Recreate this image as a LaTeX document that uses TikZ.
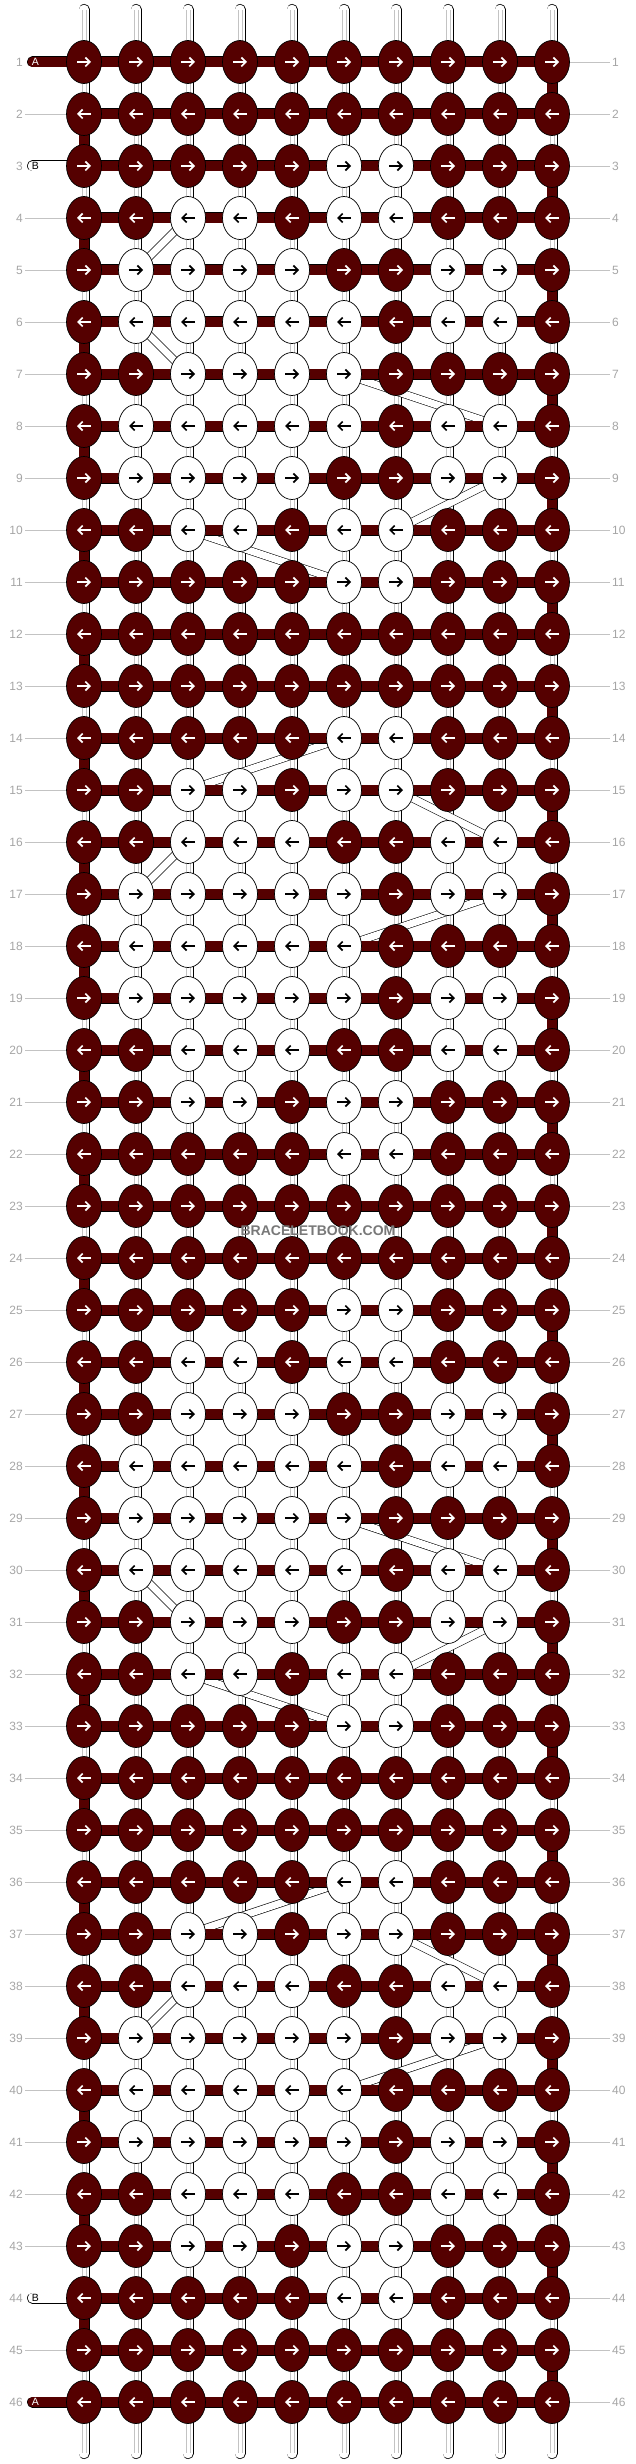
\documentclass[tikz,border=0pt]{standalone}
\usepackage{fontspec}
\setmainfont{Liberation Sans}
\usepackage{tikz}
\usetikzlibrary{arrows.meta, calc, shapes.geometric}
\definecolor{knotdark}{RGB}{85,0,0}
\definecolor{rowgray}{RGB}{165,165,165}
\definecolor{linegray}{RGB}{195,195,195}
\definecolor{markgray}{RGB}{120,120,120}
\pgfdeclarelayer{strings}
\pgfsetlayers{strings,main}

\begin{document}
\begin{tikzpicture}[x=1pt, y=-1pt,
    knot/.style={ellipse, draw=black, line width=0.7pt, minimum width=35pt, minimum height=43pt, inner sep=0pt},
    knot0/.style={knot, fill=knotdark},
    knot1/.style={knot, fill=white},
    thread/.style={draw=black, line width=0.7pt, double=white, double distance=9.6pt, line cap=round},
    threadmid/.style={draw=linegray, line width=0.6pt},
    band/.style={draw=black, line width=0.6pt, double=white, double distance=7pt},
    workbar/.style={draw=black, line width=0.6pt, double=knotdark, double distance=9.8pt},
    arrowline/.style={line width=1.7pt, -{Straight Barb[length=4.5pt, width=9pt]}},
    rowlabel/.style={text=rowgray, font=\fontsize{12}{12}\selectfont, inner sep=2pt},
    rowline/.style={draw=linegray, line width=0.8pt},
    strandlabel/.style={font=\fontsize{10.5}{10.5}\selectfont, inner sep=0pt}]
    \useasboundingbox (0,0) rectangle (636,2464);
    % knots, 1 = white knot
    \foreach \pat [count=\r] in {
        {0,0,0,0,0,0,0,0,0,0}, {0,0,0,0,0,0,0,0,0,0}, {0,0,0,0,0,1,1,0,0,0}, {0,0,1,1,0,1,1,0,0,0},
        {0,1,1,1,1,0,0,1,1,0}, {0,1,1,1,1,1,0,1,1,0}, {0,0,1,1,1,1,0,0,0,0}, {0,1,1,1,1,1,0,1,1,0},
        {0,1,1,1,1,0,0,1,1,0}, {0,0,1,1,0,1,1,0,0,0}, {0,0,0,0,0,1,1,0,0,0}, {0,0,0,0,0,0,0,0,0,0},
        {0,0,0,0,0,0,0,0,0,0}, {0,0,0,0,0,1,1,0,0,0}, {0,0,1,1,0,1,1,0,0,0}, {0,0,1,1,1,0,0,1,1,0},
        {0,1,1,1,1,1,0,1,1,0}, {0,1,1,1,1,1,0,0,0,0}, {0,1,1,1,1,1,0,1,1,0}, {0,0,1,1,1,0,0,1,1,0},
        {0,0,1,1,0,1,1,0,0,0}, {0,0,0,0,0,1,1,0,0,0}, {0,0,0,0,0,0,0,0,0,0}, {0,0,0,0,0,0,0,0,0,0},
        {0,0,0,0,0,1,1,0,0,0}, {0,0,1,1,0,1,1,0,0,0}, {0,0,1,1,1,0,0,1,1,0}, {0,1,1,1,1,1,0,1,1,0},
        {0,1,1,1,1,1,0,0,0,0}, {0,1,1,1,1,1,0,1,1,0}, {0,0,1,1,1,0,0,1,1,0}, {0,0,1,1,0,1,1,0,0,0},
        {0,0,0,0,0,1,1,0,0,0}, {0,0,0,0,0,0,0,0,0,0}, {0,0,0,0,0,0,0,0,0,0}, {0,0,0,0,0,1,1,0,0,0},
        {0,0,1,1,0,1,1,0,0,0}, {0,0,1,1,1,0,0,1,1,0}, {0,1,1,1,1,1,0,1,1,0}, {0,1,1,1,1,1,0,0,0,0},
        {0,1,1,1,1,1,0,1,1,0}, {0,0,1,1,1,0,0,1,1,0}, {0,0,1,1,0,1,1,0,0,0}, {0,0,0,0,0,1,1,0,0,0},
        {0,0,0,0,0,0,0,0,0,0}, {0,0,0,0,0,0,0,0,0,0}} {
      \foreach \v [count=\c] in \pat {
        \node[knot\v] (k-\r-\c) at ({84+52*(\c-1)}, {62+52*(\r-1)}) {};
        \ifnum\v=1 \def\acol{black}\else\def\acol{white}\fi
        \ifodd\r
          \draw[arrowline, draw=\acol] ([xshift=-7pt]k-\r-\c.center) -- ([xshift=7pt]k-\r-\c.center);
        \else
          \draw[arrowline, draw=\acol] ([xshift=7pt]k-\r-\c.center) -- ([xshift=-7pt]k-\r-\c.center);
        \fi
      }
    }
    \begin{pgfonlayer}{strings}
      % background threads
      \foreach \c in {1,...,10} {
        \coordinate (top-\c) at ({84+52*(\c-1)}, 9.5);
        \coordinate (bot-\c) at ({84+52*(\c-1)}, 2453.5);
        \draw[thread] (top-\c) -- (bot-\c);
        \draw[threadmid] ($(top-\c)+(-1.8,1)$) -- ($(bot-\c)+(-1.8,-1)$);
        \draw[threadmid] ($(top-\c)+(1.8,1)$) -- ($(bot-\c)+(1.8,-1)$);
      }
      % moved threads
      \foreach \a/\b/\p/\q in {4/3/5/2, 6/2/7/3, 7/6/8/9, 9/9/10/7, 10/3/11/6, 14/6/15/3, 15/7/16/9,
          16/3/17/2, 17/9/18/6, 29/6/30/9, 30/2/31/3, 31/9/32/7, 32/3/33/6, 36/6/37/3, 37/7/38/9,
          38/3/39/2, 39/9/40/6}
        \draw[band] (k-\a-\b.center) -- (k-\p-\q.center);
      % working thread
      \foreach \r in {1,...,46} {
        \foreach \c in {1,...,9} {
          \pgfmathtruncatemacro\nxt{\c+1}
          \draw[workbar] (k-\r-\c.center) -- (k-\r-\nxt.center);
        }
      }
      \foreach \r in {1,...,45} {
        \pgfmathtruncatemacro\nxt{\r+1}
        \ifodd\r
          \draw[workbar] (k-\r-10.center) -- (k-\nxt-10.center);
        \else
          \draw[workbar] (k-\r-1.center) -- (k-\nxt-1.center);
        \fi
      }
      % strands A and B
      \foreach \r in {1,46} {
        \coordinate (sa-\r) at (32.5, {62+52*(\r-1)});
        \draw[workbar, line cap=round] (sa-\r) -- (k-\r-1.center);
      }
      \foreach \r in {3,44} {
        \coordinate (sb-\r) at (32.5, {62+52*(\r-1)});
        \draw[thread] (sb-\r) -- (k-\r-1.center);
      }
    \end{pgfonlayer}
    \foreach \r in {1,46}
      \node[strandlabel, text=white] (la-\r) at (35.5, {62+52*(\r-1)}) {A};
    \foreach \r in {3,44}
      \node[strandlabel, text=black] (lb-\r) at (35.5, {62+52*(\r-1)}) {B};
    % row numbers
    \foreach \r in {1,...,46} {
      \node[rowlabel, anchor=east] (ln-\r) at (25, {62+52*(\r-1)}) {\r};
      \node[rowlabel, anchor=west] (rn-\r) at (610, {62+52*(\r-1)}) {\r};
      \draw[rowline] (k-\r-10) -- (rn-\r);
    }
    \foreach \r in {2,4,5,...,43,45}
      \draw[rowline] (ln-\r) -- (k-\r-1);
    \node[font=\bfseries\fontsize{14}{14}\selectfont, text=markgray, inner sep=0pt] (mark) at (318, 1231) {BRACELETBOOK.COM};
\end{tikzpicture}
\end{document}
